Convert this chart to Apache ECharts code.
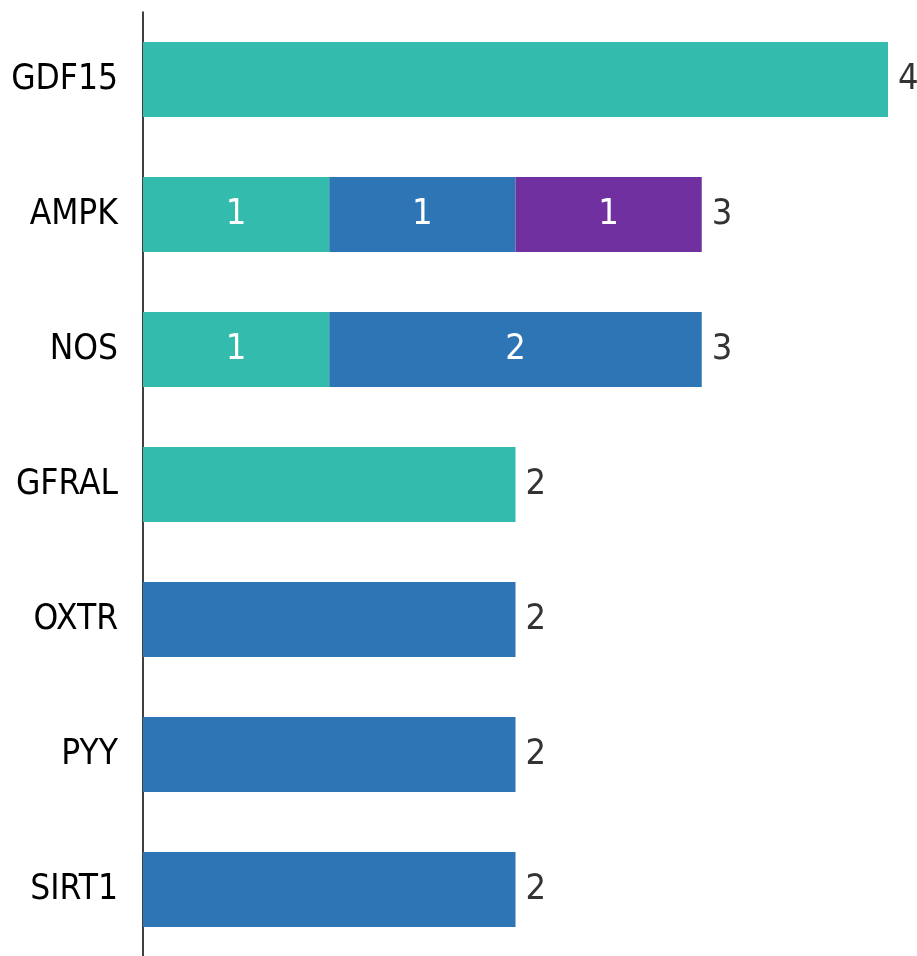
<!DOCTYPE html>
<html>
<head>
<meta charset="utf-8">
<script src="https://cdn.jsdelivr.net/npm/echarts@6/dist/echarts.min.js"></script>
<style>html,body{margin:0;padding:0;background:#fff}#c{width:917px;height:956px}</style>
</head>
<body>
<div id="c"></div>
<script>
const categories = ['GDF15', 'AMPK', 'NOS', 'GFRAL', 'OXTR', 'PYY', 'SIRT1'];
const tealValues = [4, 1, 1, 2, 0, 0, 0];
const blueValues = [0, 1, 2, 0, 2, 2, 2];
const purpleValues = [0, 1, 0, 0, 0, 0, 0];

const totals = categories.map((c, i) => tealValues[i] + blueValues[i] + purpleValues[i]);
const segCount = categories.map((c, i) => [tealValues[i], blueValues[i], purpleValues[i]].filter(v => v > 0).length);

const FONT = '"Liberation Sans Narrow", "DejaVu Sans Condensed", "Open Sans", sans-serif';

function innerLabel(p) {
  return (p.value > 0 && segCount[p.dataIndex] > 1) ? String(p.value) : '';
}
function mkSeries(name, data, color) {
  return {
    name: name, type: 'bar', stack: 'total', data: data, barWidth: '55.5%',
    itemStyle: { color: color },
    label: { show: true, position: 'inside', color: '#ffffff', fontFamily: FONT, fontSize: 36, formatter: innerLabel },
    silent: true
  };
}

const chart = echarts.init(document.getElementById('c'), null, { renderer: 'canvas' });
chart.setOption({
  animation: false,
  backgroundColor: '#ffffff',
  grid: { left: 143, right: 29, top: 12, bottom: -1, containLabel: false, outerBoundsMode: 'none' },
  xAxis: { type: 'value', min: 0, max: 4, show: false },
  yAxis: {
    type: 'category', data: categories, inverse: true,
    axisLine: { show: true, lineStyle: { color: '#000000', width: 1.5 } },
    axisTick: { show: false },
    axisLabel: { color: '#000000', fontFamily: FONT, fontSize: 35, margin: 25 }
  },
  series: [
    mkSeries('teal', tealValues, '#33BBAD'),
    mkSeries('blue', blueValues, '#2E75B6'),
    mkSeries('purple', purpleValues, '#7030A0'),
    {
      type: 'scatter', symbolSize: 0, silent: true,
      data: totals.map((t, i) => [t, categories[i]]),
      label: { show: true, position: 'right', distance: 10, color: '#000000', fontFamily: FONT, fontSize: 36,
        formatter: p => String(p.value[0]) }
    }
  ]
});
</script>
</body>
</html>
